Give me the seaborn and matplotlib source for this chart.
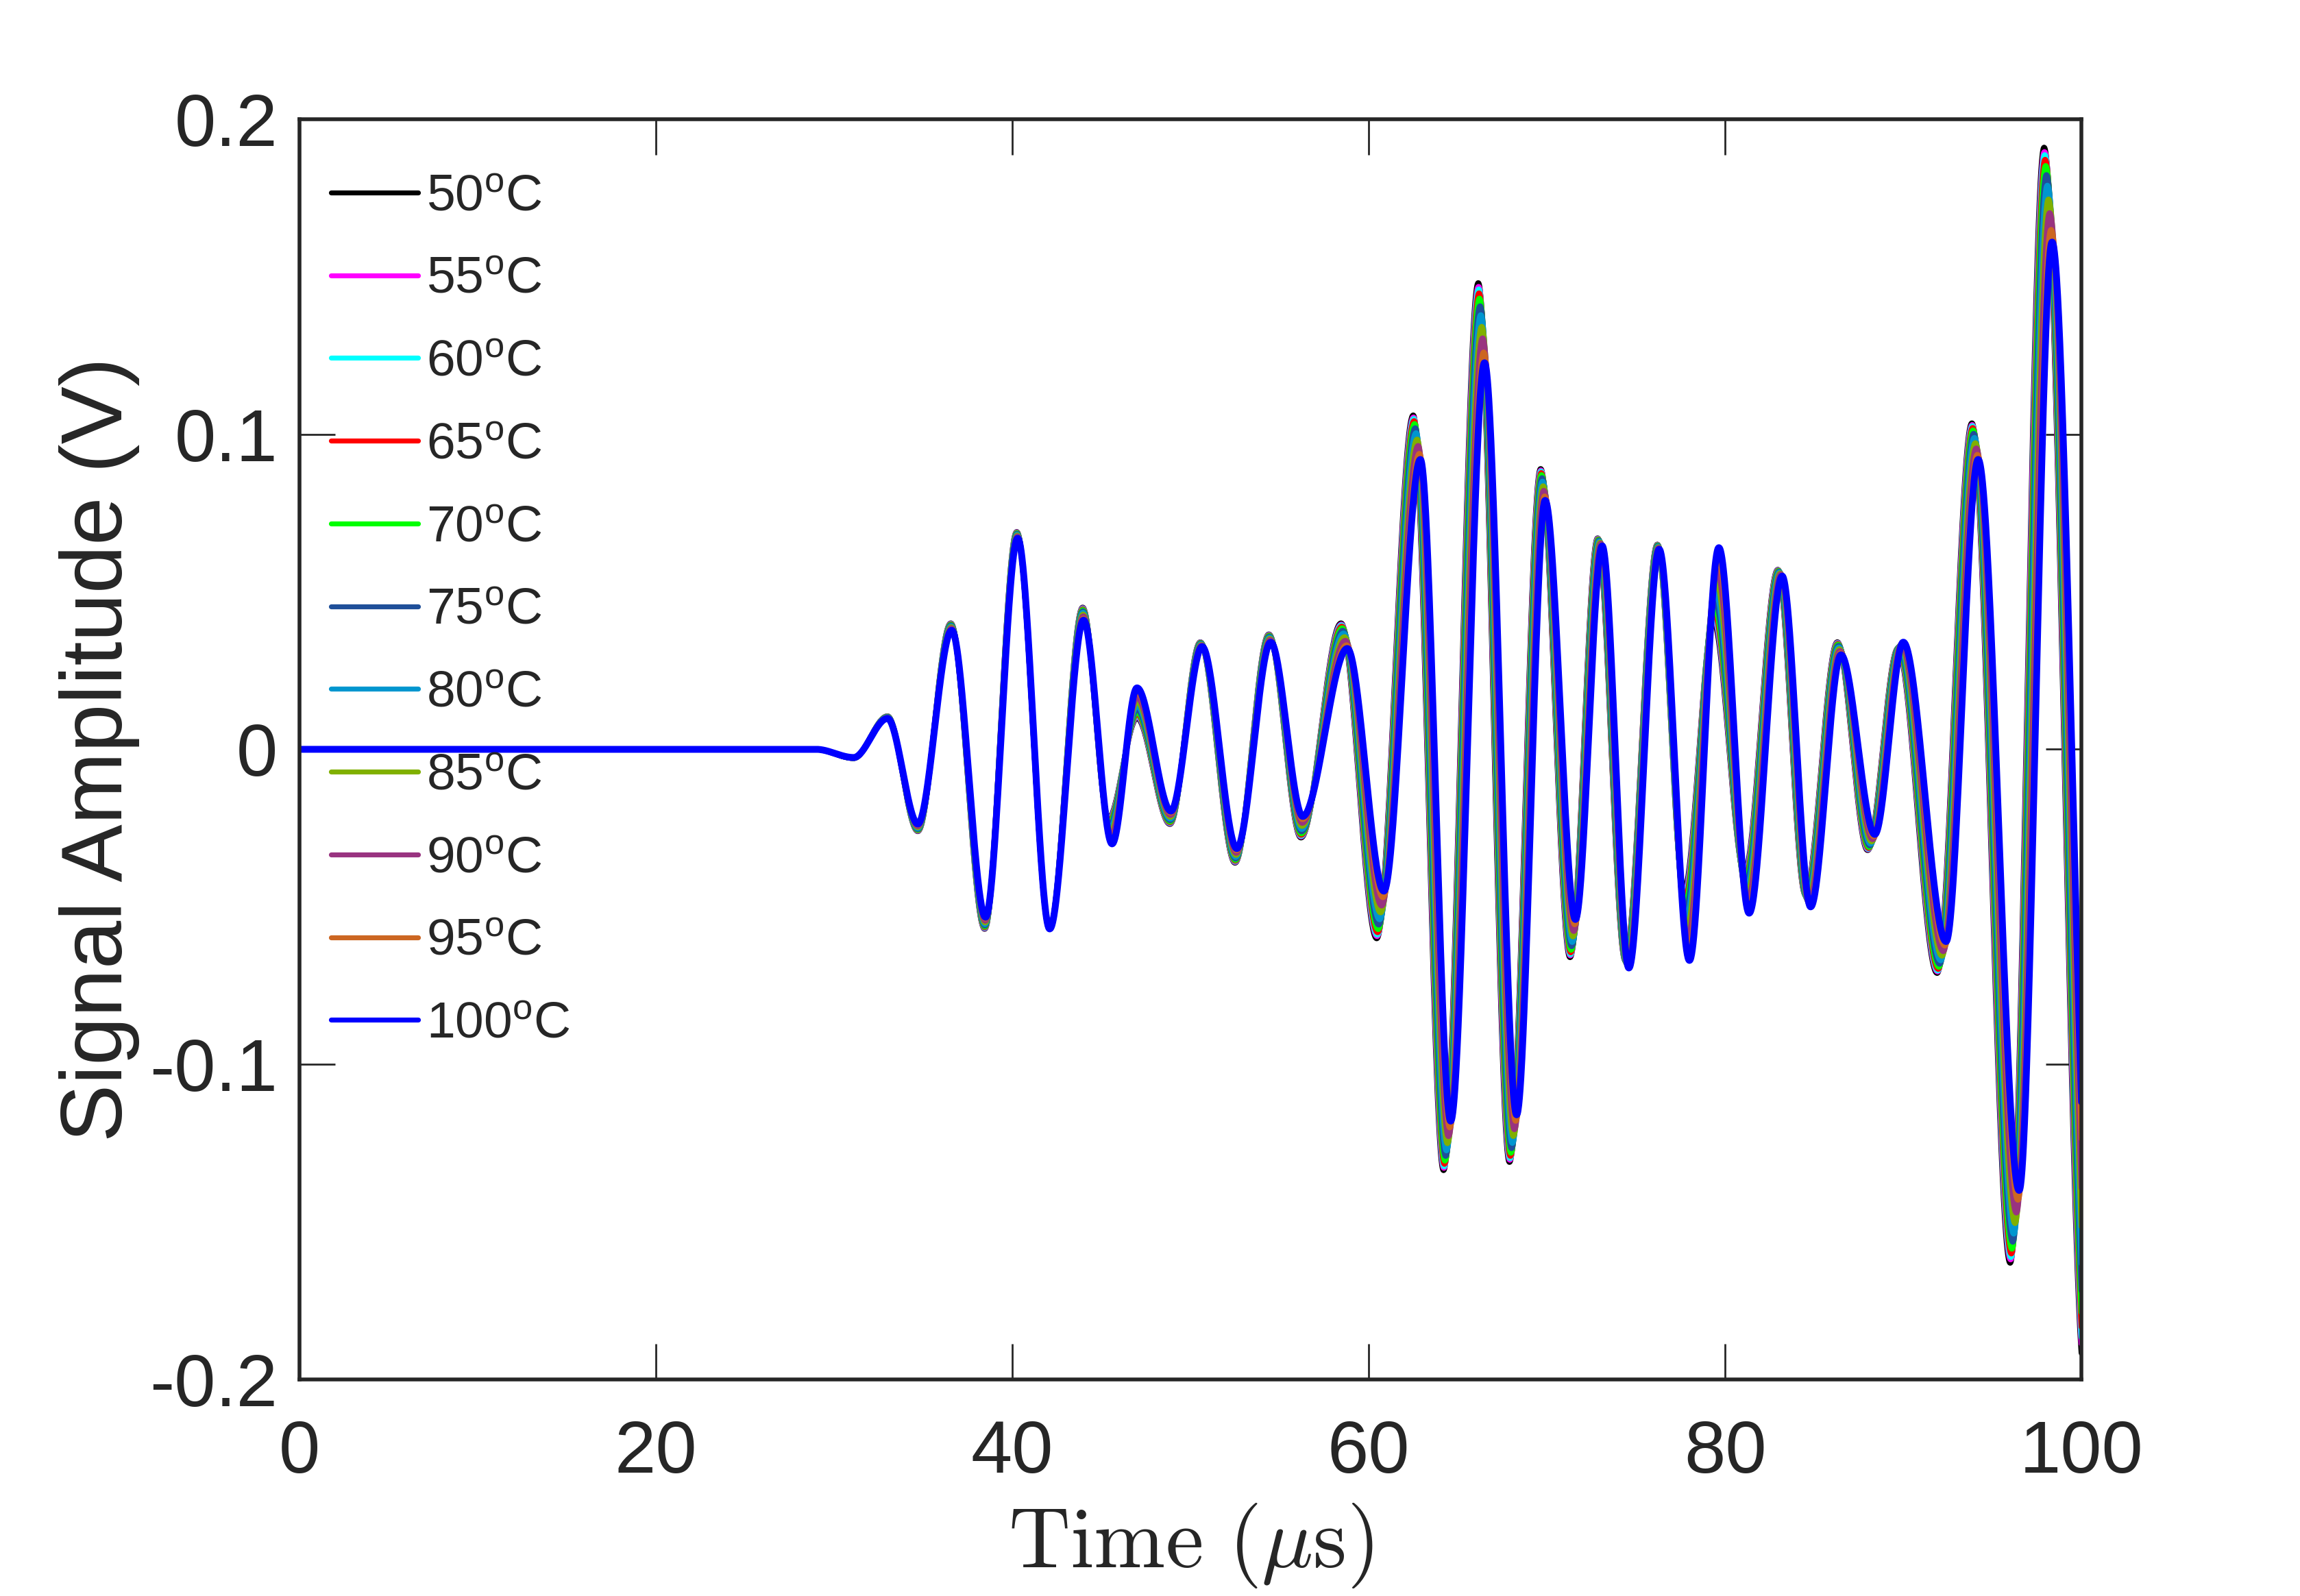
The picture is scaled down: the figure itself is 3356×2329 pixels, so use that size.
import numpy as np
import pandas as pd
import matplotlib
matplotlib.use("Agg")
import matplotlib.pyplot as plt
import seaborn as sns

# ---------------- data ----------------
TEMPS = [50, 55, 60, 65, 70, 75, 80, 85, 90, 95, 100]
LABELS = [f"{t}$^{{\\mathrm{{o}}}}$C" for t in TEMPS]
COLORS = ["#000000", "#ff00ff", "#00ffff", "#ff0000", "#00ff00", "#1f4f99",
          "#0096cf", "#80b000", "#993380", "#cc6622", "#0000ff"]

# extrema (time in us, amplitude in V) of the 50 C trace
T50 = [0, 29.0, 31.1, 33.0, 34.7, 36.55, 38.45, 40.25, 42.1, 43.95, 45.4, 47.0,
       48.85, 50.55, 52.5, 54.4, 56.2, 58.45, 60.45, 62.5, 64.2, 66.15, 67.9,
       69.65, 71.3, 72.85, 74.4, 76.2, 77.7, 79.35, 81.1, 82.96, 84.5, 86.3,
       88.0, 89.7, 91.9, 93.85, 96.0, 97.9, 100.2]
A50 = [0, 0, -0.0028, 0.0105, -0.026, 0.040, -0.057, 0.069, -0.057, 0.045,
       -0.022, 0.010, -0.0237, 0.034, -0.036, 0.0365, -0.028, 0.040, -0.060,
       0.106, -0.1336, 0.148, -0.131, 0.089, -0.066, 0.067, -0.067, 0.065,
       -0.045, 0.0407, -0.039, 0.057, -0.046, 0.034, -0.032, 0.032, -0.071,
       0.1035, -0.163, 0.191, -0.200]

# extrema of the 100 C trace
T100 = [0, 29.0, 31.1, 33.0, 34.7, 36.6, 38.5, 40.3, 42.1, 44.0, 45.6, 47.0,
        48.9, 50.65, 52.6, 54.5, 56.3, 58.8, 60.85, 62.9, 64.6, 66.5, 68.3,
        69.9, 71.6, 73.1, 74.6, 76.3, 78.0, 79.65, 81.35, 83.2, 84.8, 86.5,
        88.4, 90.0, 92.4, 94.2, 96.5, 98.35, 100.6]
A100 = [0, 0, -0.0026, 0.0098, -0.0237, 0.0378, -0.0533, 0.067, -0.057, 0.041,
        -0.030, 0.0195, -0.0196, 0.0326, -0.0315, 0.034, -0.0213, 0.032, -0.045,
        0.092, -0.118, 0.1227, -0.116, 0.079, -0.054, 0.0646, -0.0694, 0.0635,
        -0.067, 0.064, -0.052, 0.055, -0.050, 0.030, -0.027, 0.034, -0.061,
        0.092, -0.140, 0.161, -0.170]

# relative position of each temperature's trace within the 50..100 C fan
# (read from the stacked line ends at t = 100 us)
TEMP_WEIGHT = [0.0, 0.047, 0.079, 0.128, 0.194, 0.290, 0.402, 0.548, 0.693, 0.870, 1.0]

XTICKS = [0, 20, 40, 60, 80, 100]
YTICKS = [-0.2, -0.1, 0, 0.1, 0.2]
YTICKLABELS = ["-0.2", "-0.1", "0", "0.1", "0.2"]


def trace(tk, ak, t):
    tk = np.asarray(tk, float)
    ak = np.asarray(ak, float)
    i = np.clip(np.searchsorted(tk, t, side="right") - 1, 0, len(tk) - 2)
    s = (t - tk[i]) / (tk[i + 1] - tk[i])
    return ak[i] + (ak[i + 1] - ak[i]) * (3 * s ** 2 - 2 * s ** 3)


t = np.linspace(0, 100, 5001)
frames = []
for lab, w in zip(LABELS, TEMP_WEIGHT):
    tk = (1 - w) * np.asarray(T50) + w * np.asarray(T100)
    ak = (1 - w) * np.asarray(A50) + w * np.asarray(A100)
    frames.append(pd.DataFrame({"time": t, "amp": trace(tk, ak, t), "temp": lab}))
df = pd.concat(frames, ignore_index=True)

# ---------------- style ----------------
sns.set_theme(style="ticks")
plt.rcParams["font.family"] = ["Liberation Sans", "DejaVu Sans"]
plt.rcParams["mathtext.fontset"] = "custom"
plt.rcParams["mathtext.rm"] = "Liberation Sans"
plt.rcParams["mathtext.it"] = "Liberation Sans:italic"
plt.rcParams["mathtext.bf"] = "Liberation Sans:bold"
plt.rcParams["axes.unicode_minus"] = False

DARK = "#262626"
fig = plt.figure(figsize=(16.78, 11.645), dpi=200)
ax = fig.add_axes([0.1302, 0.1357, 0.7748, 0.7896])

sns.lineplot(data=df, x="time", y="amp", hue="temp", hue_order=LABELS,
             palette=COLORS, estimator=None, sort=False, linewidth=3.0,
             ax=ax, legend=True)
# the 100 C trace is drawn a little heavier
ax.get_lines()[len(TEMPS) - 1].set_linewidth(3.6)

ax.set_xlim(0, 100)
ax.set_ylim(-0.2, 0.2)
ax.set_xticks(XTICKS)
ax.set_xticklabels([str(v) for v in XTICKS])
ax.set_yticks(YTICKS)
ax.set_yticklabels(YTICKLABELS)

for sp in ax.spines.values():
    sp.set_visible(True)
    sp.set_linewidth(2.0)
    sp.set_color(DARK)

ax.tick_params(axis="both", direction="in", length=18.7, width=1.0,
               colors=DARK, labelsize=39, top=True, right=True)
ax.tick_params(axis="x", pad=21)
ax.tick_params(axis="y", pad=11.5)

ax.set_ylabel("Signal Amplitude (V)", fontsize=45.5, color=DARK, labelpad=5)
xl = ax.set_xlabel(r"$\mathrm{Time}\ (\mu\mathrm{s})$", fontsize=45,
                   color=DARK, labelpad=7)
xl.set_math_fontfamily("cm")

handles, labels = ax.get_legend_handles_labels()
leg = ax.legend(handles, labels, loc="upper left",
                bbox_to_anchor=(0.0177, 0.957), frameon=False,
                fontsize=27, handlelength=1.7, handletextpad=0.16,
                labelspacing=0.69, borderpad=0, borderaxespad=0)
for ln in leg.get_lines():
    ln.set_linewidth(2.6)

fig.savefig("out.png", dpi=200)
